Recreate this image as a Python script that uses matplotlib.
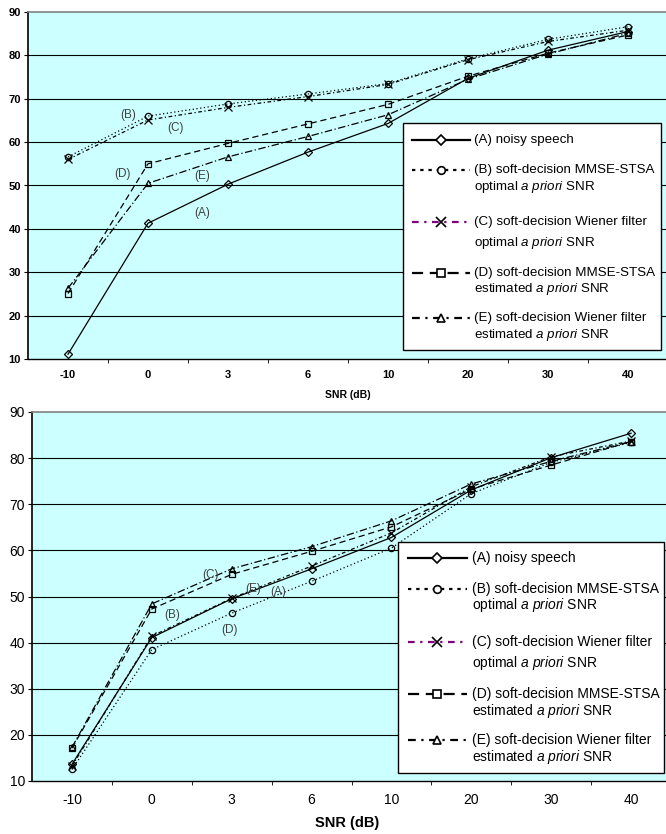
import matplotlib
matplotlib.use("Agg")
import matplotlib.pyplot as plt
import numpy as np
from matplotlib.lines import Line2D
from matplotlib.patches import Rectangle

plt.rcParams['font.family'] = ['Liberation Sans', 'DejaVu Sans']
plt.rcParams['mathtext.fontset'] = 'custom'
plt.rcParams['mathtext.rm'] = 'Liberation Sans'
plt.rcParams['mathtext.it'] = 'Liberation Sans:italic'

# données
snr_labels = ['-10', '0', '3', '6', '10', '20', '30', '40']

top_A = [11.1, 41.3, 50.3, 57.7, 64.3, 74.7, 81.2, 85.5]
top_B = [56.6, 66.0, 68.8, 71.1, 73.5, 79.2, 83.7, 86.6]
top_C = [56.0, 65.1, 68.0, 70.5, 73.3, 79.0, 83.2, 85.8]
top_D = [25.1, 55.0, 59.7, 64.2, 68.7, 75.2, 80.5, 84.7]
top_E = [26.3, 50.5, 56.6, 61.3, 66.3, 74.5, 80.3, 85.1]

bot_A = [13.6, 41.1, 49.5, 56.0, 62.8, 73.1, 80.1, 85.4]
bot_B = [12.5, 38.5, 46.4, 53.3, 60.5, 72.3, 79.1, 83.4]
bot_C = [13.2, 41.4, 49.6, 56.6, 63.8, 73.8, 80.3, 83.7]
bot_D = [17.1, 47.3, 54.8, 59.8, 65.1, 73.3, 78.5, 83.6]
bot_E = [17.3, 48.4, 56.0, 60.8, 66.4, 74.4, 79.3, 83.6]

legend_labels = [
    ("(A) noisy speech", None),
    ("(B) soft-decision MMSE-STSA", r"optimal $\mathit{a\ priori}$ SNR"),
    ("(C) soft-decision Wiener filter", r"optimal $\mathit{a\ priori}$ SNR"),
    ("(D) soft-decision MMSE-STSA", r"estimated $\mathit{a\ priori}$ SNR"),
    ("(E) soft-decision Wiener filter", r"estimated $\mathit{a\ priori}$ SNR"),
]

top_notes = [("(B)", 0.75, 66.3), ("(C)", 1.34, 63.3), ("(D)", 0.68, 52.7),
             ("(E)", 1.68, 52.2), ("(A)", 1.68, 43.7)]
bot_notes = [("(C)", 1.74, 54.6), ("(E)", 2.27, 51.7), ("(A)", 2.58, 50.9),
             ("(B)", 1.26, 45.9), ("(D)", 1.97, 42.7)]

# styles: marqueur, tirets du tracé, tirets de la légende, couleur légende, taille marqueur
styles = [
    ('D', '-', '-', 'black', 4),
    ('o', (0, (1, 2)), (0, (1.5, 2.2)), 'black', 4.5),
    ('x', (0, (3, 2, 1, 2)), (0, (3, 2.5, 1, 2.5)), '#800080', 5.5),
    ('s', (0, (5, 3)), (0, (5, 3)), 'black', 4.5),
    ('^', (0, (6, 2, 1, 2)), (0, (3.5, 2.5, 1, 2.5)), 'black', 5),
]

W, H = 666, 834
BG = '#ccffff'


def fx(x):
    return x / W


def fy(y):
    return 1 - y / H


def setup_axes(ax, fs_tick, bold, pad_x):
    ax.set_facecolor(BG)
    ax.set_xlim(-0.5, 7.5)
    ax.set_ylim(10, 90)
    ax.set_yticks(range(10, 91, 10))
    ax.set_xticks(range(8))
    ax.set_xticklabels(snr_labels)
    ax.set_xticks(np.arange(0.5, 7, 1), minor=True)
    ax.tick_params(axis='x', which='major', length=0, pad=pad_x)
    ax.tick_params(axis='x', which='minor', length=3, direction='out')
    ax.tick_params(axis='y', length=3, direction='out', pad=2)
    for lab in ax.get_xticklabels() + ax.get_yticklabels():
        lab.set_fontsize(fs_tick)
        if bold:
            lab.set_fontweight('bold')
    for y in range(20, 90, 10):
        ax.axhline(y, color='black', lw=0.8, zorder=1)
    ax.spines['top'].set_color('#808080')
    ax.spines['top'].set_linewidth(1.2)
    ax.spines['right'].set_visible(False)
    ax.spines['left'].set_linewidth(1.2)
    ax.spines['bottom'].set_linewidth(1.0)


def trace_courbes(ax, series, notes):
    x = range(len(snr_labels))
    for vals, (m, ls, _, _, ms) in zip(series, styles):
        ax.plot(x, vals, color='black', ls=ls, lw=0.9, marker=m, ms=ms,
                mfc='none', mec='black', mew=0.9, zorder=3)
    for txt, xx, yy in notes:
        ax.text(xx, yy, txt, color='#404040', fontsize=8.5, ha='center', va='center', zorder=4)


def trace_legende(fig, box, hx, tx, rows, fs):
    left, top, right, bottom = box
    fig.add_artist(Rectangle((fx(left), fy(bottom)), (right - left) / W, (bottom - top) / H,
                             transform=fig.transFigure, fc='white', ec='black', lw=1.0, zorder=5))
    h0, hm, h1 = hx
    for (y1, y2), (l1, l2), (m, _, lls, col, ms) in zip(rows, legend_labels, styles):
        fig.add_artist(Line2D([fx(h0), fx(hm), fx(h1)], [fy(y1)] * 3, transform=fig.transFigure,
                              color=col, ls=lls, lw=1.6, marker=m, ms=ms + 1, markevery=[1],
                              mfc='white', mec='black', mew=1.2, zorder=6))
        fig.text(fx(tx), fy(y1), l1, va='center', ha='left', fontsize=fs, zorder=6)
        if l2:
            fig.text(fx(tx), fy(y2), l2, va='center', ha='left', fontsize=fs, zorder=6)


fig = plt.figure(figsize=(6.66, 8.34), dpi=100)

# graphique du haut
ax1 = fig.add_axes([fx(28), fy(359), 640 / W, 347 / H])
setup_axes(ax1, 8, True, 8)
trace_courbes(ax1, [top_A, top_B, top_C, top_D, top_E], top_notes)
fig.text(fx(348), fy(395), 'SNR (dB)', fontsize=7.5, fontweight='bold', ha='center', va='center')
trace_legende(fig, (403, 123, 661, 350), (412, 441, 470), 474,
              [(140, None), (170, 187), (222, 243), (273, 289), (318, 335)], 9.6)

# graphique du bas
ax2 = fig.add_axes([fx(32), fy(781), 639 / W, 369 / H])
setup_axes(ax2, 10, False, 8.5)
trace_courbes(ax2, [bot_A, bot_B, bot_C, bot_D, bot_E], bot_notes)
fig.text(fx(347), fy(823), 'SNR (dB)', fontsize=10.5, fontweight='bold', ha='center', va='center')
trace_legende(fig, (398, 542, 664, 773), (408, 437, 467), 472,
              [(558, None), (589, 605), (642, 663), (694, 711), (740, 757)], 10)

plt.savefig('out.png', dpi=100)
plt.close()
